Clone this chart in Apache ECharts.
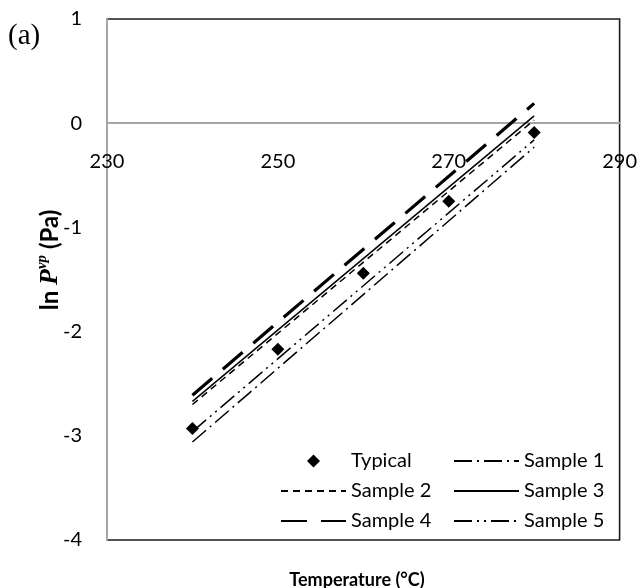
<!DOCTYPE html>
<html>
<head>
<meta charset="utf-8">
<script src="https://cdn.jsdelivr.net/npm/echarts@6/dist/echarts.min.js"></script>
<style>html,body{margin:0;padding:0;background:#fff;}#c{width:640px;height:588px;}</style>
</head>
<body>
<div id="c"></div>
<script>
var xTicks = [230, 250, 270, 290];
var yTicks = [-4, -3, -2, -1, 0, 1];
var temps = [240, 250, 260, 270, 280];
var typical = [-2.93, -2.17, -1.44, -0.75, -0.09];
var lineTemps = [240, 280];
var sample1 = [-3.06, -0.23];
var sample2 = [-2.70, 0.03];
var sample3 = [-2.67, 0.07];
var sample4 = [-2.61, 0.19];
var sample5 = [-2.96, -0.16];

function pairs(xs, ys) { return xs.map(function (x, i) { return [x, ys[i]]; }); }

var W = 640, H = 588;
var G = {left: 107, right: 19, top: 19, bottom: 48};
var yMin = yTicks[0], yMax = yTicks[yTicks.length - 1];
var plotH = H - G.top - G.bottom;
// place the x axis (line + labels) on y = 0, as in the reference
var xAxisOffset = -plotH * (0 - yMin) / (yMax - yMin);

var chart = echarts.init(document.getElementById('c'), null, {renderer: 'canvas'});
var F = 'Lato';
function lineSeries(name, ys, type, width) {
  return {
    name: name, type: 'line', data: pairs(lineTemps, ys), symbol: 'none', showSymbol: false,
    color: '#000', lineStyle: {color: '#000', width: width, type: type}, silent: true, animation: false
  };
}
var legendText = {fontFamily: F, fontSize: 20, color: '#000'};
chart.setOption({
  animation: false,
  grid: {left: G.left, right: G.right, top: G.top, bottom: G.bottom, show: true, borderColor: '#1a1a1a', borderWidth: 1.6, backgroundColor: 'transparent'},
  xAxis: {
    type: 'value', min: xTicks[0], max: xTicks[xTicks.length - 1], interval: 20,
    position: 'bottom', offset: xAxisOffset,
    axisLine: {onZero: false, lineStyle: {color: '#a6a6a6', width: 2}},
    axisTick: {show: false}, splitLine: {show: false},
    axisLabel: {fontFamily: F, fontSize: 20, color: '#000', margin: 28}
  },
  yAxis: {
    type: 'value', min: yMin, max: yMax, interval: 1,
    axisLine: {show: true, onZero: false, lineStyle: {color: '#a6a6a6', width: 2}},
    axisTick: {show: false}, splitLine: {show: false},
    axisLabel: {fontFamily: F, fontSize: 20, color: '#000', margin: 25}
  },
  legend: [
    {data: [{name: 'Typical', icon: 'diamond'}], orient: 'vertical', left: 307, top: 451, padding: 0, itemWidth: 13, itemHeight: 13,
     itemStyle: {color: '#000', opacity: 1},
     textStyle: {fontFamily: F, fontSize: 20, color: '#000', padding: [0, 0, 0, 26]}},
    {data: ['Sample 2', 'Sample 4'], orient: 'vertical', left: 280, top: 481, padding: 0, itemWidth: 65, itemHeight: 11, itemGap: 10,
     itemStyle: {opacity: 0}, textStyle: legendText},
    {data: ['Sample 1', 'Sample 3', 'Sample 5'], orient: 'vertical', left: 453, top: 451, padding: 0, itemWidth: 65, itemHeight: 11, itemGap: 10,
     itemStyle: {opacity: 0}, textStyle: legendText}
  ],
  graphic: [
    {type: 'text', left: 8, top: 22, style: {text: '(a)', font: '29px "Liberation Serif"', fill: '#000'}},
    {type: 'text', x: 357, y: 580, style: {text: 'Temperature (°C)', font: 'bold 18px Lato', fill: '#000', textAlign: 'center', textVerticalAlign: 'middle'}},
    {type: 'text', x: 50, y: 260, rotation: Math.PI / 2,
     style: {text: '{n|ln }{p|P}{s|vp}{n| (Pa)}', textAlign: 'center', textVerticalAlign: 'middle', fill: '#000',
       rich: {
         n: {fontFamily: F, fontWeight: 'bold', fontSize: 24, lineHeight: 30, fill: '#000'},
         p: {fontFamily: 'Liberation Serif', fontStyle: 'italic', fontWeight: 'bold', fontSize: 26, lineHeight: 30, fill: '#000'},
         s: {fontFamily: 'Liberation Serif', fontStyle: 'italic', fontWeight: 'bold', fontSize: 15, lineHeight: 16, verticalAlign: 'top', fill: '#000'}
       }}}
  ],
  series: [
    {name: 'Typical', type: 'scatter', data: pairs(temps, typical), symbol: 'diamond', symbolSize: 13,
     itemStyle: {color: '#000', opacity: 1}, z: 5},
    lineSeries('Sample 1', sample1, [18, 5, 2, 5], 1.5),
    lineSeries('Sample 2', sample2, [7, 5], 1.5),
    lineSeries('Sample 3', sample3, 'solid', 1.5),
    lineSeries('Sample 4', sample4, [26, 14], 3.2),
    lineSeries('Sample 5', sample5, [18, 5, 2, 5, 2, 5], 1.5)
  ]
});
</script>
</body>
</html>
